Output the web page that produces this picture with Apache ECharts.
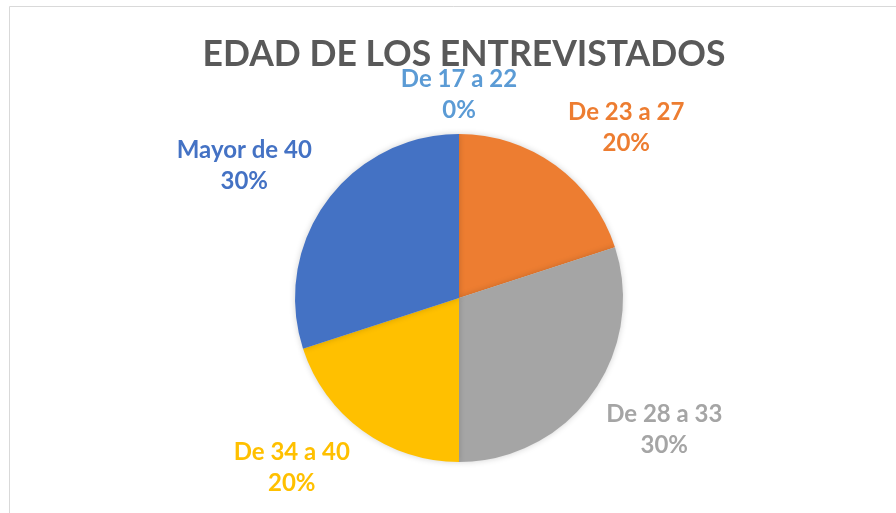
<!DOCTYPE html>
<html>
<head>
<meta charset="utf-8">
<script src="https://cdn.jsdelivr.net/npm/echarts@6/dist/echarts.min.js"></script>
<style>
  html, body { margin: 0; padding: 0; background: #fff; }
  #chart { width: 896px; height: 513px; }
</style>
</head>
<body>
<div id="chart"></div>
<script>
// datos del gráfico
var categorias = ['De 17 a 22', 'De 23 a 27', 'De 28 a 33', 'De 34 a 40', 'Mayor de 40'];
var valores = [0, 20, 30, 20, 30];
var colores = ['#5B9BD5', '#ED7D31', '#A5A5A5', '#FFC000', '#4472C4'];

var centro = [459, 298];
var radio = 164;
var total = valores.reduce(function (a, b) { return a + b; }, 0);

// ángulo medio de cada sector (desde arriba, sentido horario)
var angulos = [];
var acum = 0;
valores.forEach(function (v) {
    angulos.push((acum + v / 2) / total * 2 * Math.PI);
    acum += v;
});

var chart = echarts.init(document.getElementById('chart'));

var options = {
    backgroundColor: '#fff',
    title: {
        text: 'EDAD DE LOS ENTREVISTADOS',
        left: 459,
        top: 32,
        textAlign: 'center',
        textStyle: {
            fontFamily: 'Lato',
            fontWeight: 'bold',
            fontSize: 35.5,
            color: '#595959'
        }
    },
    graphic: [{
        type: 'rect',
        shape: { x: 9.5, y: 6.5, width: 900, height: 520 },
        style: { fill: 'none', stroke: '#d9d9d9', lineWidth: 1 },
        silent: true
    }],
    series: [{
        type: 'pie',
        center: centro,
        radius: radio,
        startAngle: 90,
        clockwise: true,
        animation: false,
        stillShowZeroSum: true,
        avoidLabelOverlap: false,
        data: categorias.map(function (c, i) {
            return {
                name: c,
                value: valores[i],
                itemStyle: { color: colores[i] },
                label: { color: colores[i] }
            };
        }),
        itemStyle: {
            borderWidth: 0,
            shadowBlur: 6,
            shadowColor: 'rgba(0,0,0,0.18)'
        },
        label: {
            show: true,
            position: 'outside',
            formatter: function (p) {
                return p.name + '\n' + Math.round(p.value / total * 100) + '%';
            },
            fontFamily: 'Lato',
            fontWeight: 'bold',
            fontSize: 24,
            lineHeight: 31
        },
        labelLine: { show: false },
        labelLayout: function (p) {
            var a = angulos[p.dataIndex];
            var dx = Math.sin(a), dy = -Math.cos(a);
            var gap = 8;
            var hw = p.labelRect.width / 2 + 8;
            var hh = p.labelRect.height / 2;
            var sx = Math.abs(dx) < 1e-6 ? 0 : (dx > 0 ? 1 : -1);
            var sy = Math.abs(dy) < 1e-6 ? 0 : (dy > 0 ? 1 : -1);
            return {
                x: centro[0] + dx * (radio + gap) + sx * hw,
                y: centro[1] + dy * (radio + gap) + sy * hh,
                align: 'center',
                verticalAlign: 'middle'
            };
        }
    }]
};

chart.setOption(options);
</script>
</body>
</html>
